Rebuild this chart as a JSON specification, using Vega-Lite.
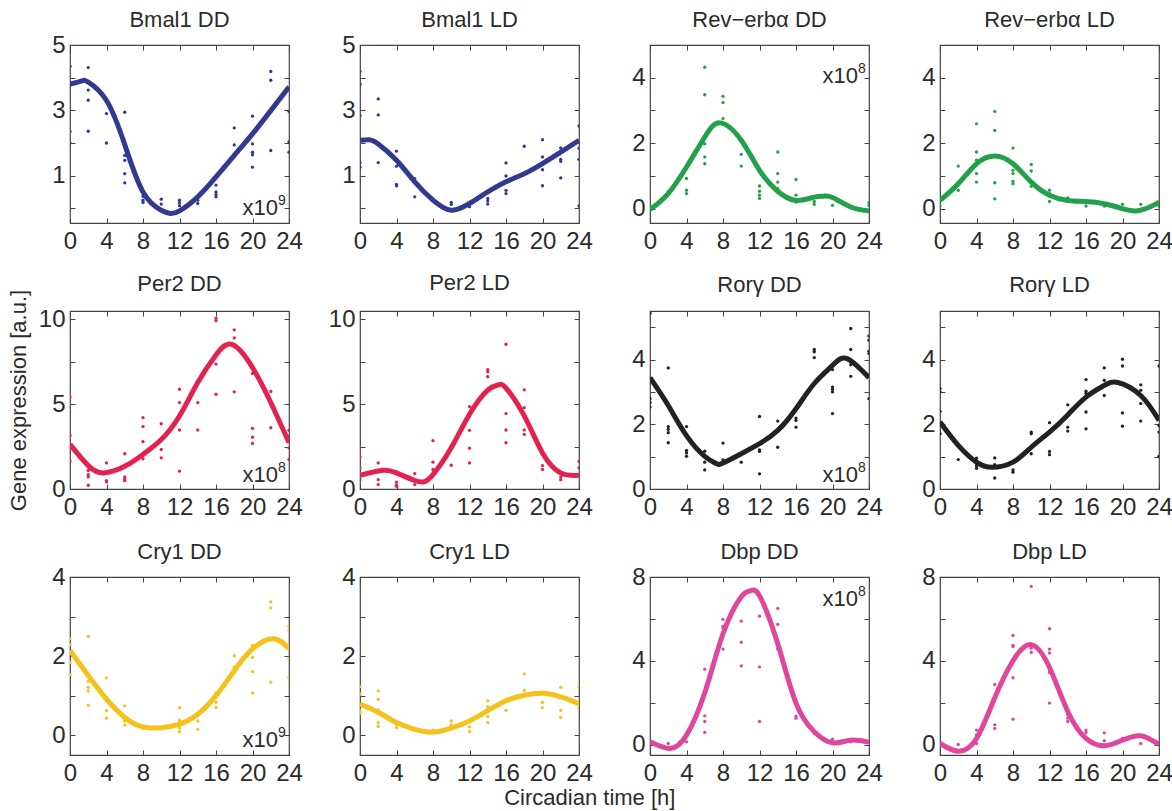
{
"$schema":"https://vega.github.io/schema/vega-lite/v6.json",
"background":"white",
"padding":{"left":6,"top":8,"right":2,"bottom":6},
"config":{
 "font":"Liberation Sans",
 "view":{"stroke":"#444","strokeWidth":1.2},
 "axis":{"domain":false,"grid":false,"tickSize":-5,"tickColor":"#444","tickWidth":1,"labelFont":"Liberation Sans","labelFontSize":24,"labelColor":"#2b2b2b","labelOverlap":false,"labelFlush":false,"titleFont":"Liberation Sans","titleFontSize":22,"titleFontWeight":"normal","titleColor":"#2b2b2b"},
 "axisX":{"labelPadding":11},
 "axisY":{"labelPadding":10},
 "title":{"font":"Liberation Sans","fontSize":22,"fontWeight":"normal","color":"#2b2b2b","offset":1},
 "style":{"group-title":{"fontWeight":"normal","fontSize":22,"font":"Liberation Sans","fill":"#2b2b2b"}},
 "text":{"font":"Liberation Sans","color":"#2b2b2b"}
},
"title":{"text":"Circadian time [h]","orient":"bottom","anchor":"middle","fontSize":22,"fontWeight":"normal","offset":2},
"datasets":{
"pts":[
{"p":"bD","t":0,"v":4.35},{"p":"bD","t":0,"v":3.8},{"p":"bD","t":0,"v":2.35},{"p":"bD","t":0,"v":2.0},
{"p":"bD","t":2,"v":4.31},{"p":"bD","t":2,"v":3.62},{"p":"bD","t":2,"v":3.31},{"p":"bD","t":2,"v":2.36},
{"p":"bD","t":4,"v":3.3},{"p":"bD","t":4,"v":2.9},{"p":"bD","t":4,"v":2.0},
{"p":"bD","t":6,"v":2.94},{"p":"bD","t":6,"v":1.62},{"p":"bD","t":6,"v":1.47},{"p":"bD","t":6,"v":1.06},{"p":"bD","t":6,"v":0.78},
{"p":"bD","t":8,"v":0.37},{"p":"bD","t":8,"v":0.25},{"p":"bD","t":8,"v":0.18},
{"p":"bD","t":10,"v":0.28},{"p":"bD","t":10,"v":0.13},
{"p":"bD","t":12,"v":0.25},{"p":"bD","t":12,"v":0.17},{"p":"bD","t":12,"v":0.08},
{"p":"bD","t":14,"v":0.25},{"p":"bD","t":14,"v":0.15},
{"p":"bD","t":16,"v":0.71},{"p":"bD","t":16,"v":0.5},{"p":"bD","t":16,"v":0.42},{"p":"bD","t":16,"v":0.35},
{"p":"bD","t":18,"v":2.46},{"p":"bD","t":18,"v":1.94},{"p":"bD","t":18,"v":1.65},
{"p":"bD","t":20,"v":2.82},{"p":"bD","t":20,"v":1.97},{"p":"bD","t":20,"v":1.72},{"p":"bD","t":20,"v":1.64},{"p":"bD","t":20,"v":1.26},
{"p":"bD","t":22,"v":4.19},{"p":"bD","t":22,"v":3.92},{"p":"bD","t":22,"v":1.77},
{"p":"bD","t":24,"v":2.97},{"p":"bD","t":24,"v":2.03},{"p":"bD","t":24,"v":1.72},

{"p":"bL","t":0,"v":4.19},{"p":"bL","t":0,"v":3.8},{"p":"bL","t":0,"v":2.84},{"p":"bL","t":0,"v":1.39},{"p":"bL","t":0,"v":1.26},
{"p":"bL","t":2,"v":3.35},{"p":"bL","t":2,"v":2.86},{"p":"bL","t":2,"v":1.95},{"p":"bL","t":2,"v":1.4},
{"p":"bL","t":4,"v":1.75},{"p":"bL","t":4,"v":1.29},{"p":"bL","t":4,"v":0.73},{"p":"bL","t":4,"v":0.69},
{"p":"bL","t":6,"v":0.91},{"p":"bL","t":6,"v":0.35},
{"p":"bL","t":8,"v":0.25},
{"p":"bL","t":10,"v":0.18},{"p":"bL","t":10,"v":0.12},
{"p":"bL","t":12,"v":0.05},
{"p":"bL","t":14,"v":0.3},{"p":"bL","t":14,"v":0.22},{"p":"bL","t":14,"v":0.13},
{"p":"bL","t":16,"v":1.39},{"p":"bL","t":16,"v":0.99},{"p":"bL","t":16,"v":0.55},{"p":"bL","t":16,"v":0.45},
{"p":"bL","t":18,"v":1.9},
{"p":"bL","t":20,"v":2.1},{"p":"bL","t":20,"v":1.57},{"p":"bL","t":20,"v":1.35},{"p":"bL","t":20,"v":1.18},{"p":"bL","t":20,"v":0.69},
{"p":"bL","t":22,"v":1.85},{"p":"bL","t":22,"v":1.5},{"p":"bL","t":22,"v":1.44},{"p":"bL","t":22,"v":0.93},
{"p":"bL","t":24,"v":2.52},{"p":"bL","t":24,"v":1.84},{"p":"bL","t":24,"v":1.5},{"p":"bL","t":24,"v":0.07},

{"p":"rD","t":0,"v":0.1},
{"p":"rD","t":2,"v":0.51},
{"p":"rD","t":4,"v":0.92},{"p":"rD","t":4,"v":0.56},{"p":"rD","t":4,"v":0.46},
{"p":"rD","t":6,"v":4.32},{"p":"rD","t":6,"v":3.48},{"p":"rD","t":6,"v":1.98},{"p":"rD","t":6,"v":1.58},{"p":"rD","t":6,"v":1.37},
{"p":"rD","t":8,"v":3.43},{"p":"rD","t":8,"v":3.24},{"p":"rD","t":8,"v":2.75},
{"p":"rD","t":10,"v":1.66},{"p":"rD","t":10,"v":1.3},
{"p":"rD","t":12,"v":0.69},{"p":"rD","t":12,"v":0.53},{"p":"rD","t":12,"v":0.41},{"p":"rD","t":12,"v":0.31},
{"p":"rD","t":14,"v":1.73},{"p":"rD","t":14,"v":1.07},{"p":"rD","t":14,"v":0.81},{"p":"rD","t":14,"v":0.61},
{"p":"rD","t":16,"v":0.89},{"p":"rD","t":16,"v":0.41},{"p":"rD","t":16,"v":0.25},{"p":"rD","t":16,"v":0.2},
{"p":"rD","t":18,"v":0.22},{"p":"rD","t":18,"v":0.13},
{"p":"rD","t":20,"v":0.1},
{"p":"rD","t":24,"v":0.18},{"p":"rD","t":24,"v":0.1},

{"p":"rL","t":0,"v":0.25},{"p":"rL","t":0,"v":0.08},
{"p":"rL","t":2,"v":1.3},{"p":"rL","t":2,"v":0.76},{"p":"rL","t":2,"v":0.56},
{"p":"rL","t":4,"v":2.59},{"p":"rL","t":4,"v":1.73},{"p":"rL","t":4,"v":1.48},{"p":"rL","t":4,"v":1.07},{"p":"rL","t":4,"v":0.81},
{"p":"rL","t":6,"v":2.97},{"p":"rL","t":6,"v":2.39},{"p":"rL","t":6,"v":0.79},{"p":"rL","t":6,"v":0.3},
{"p":"rL","t":8,"v":1.85},{"p":"rL","t":8,"v":1.17},{"p":"rL","t":8,"v":1.07},{"p":"rL","t":8,"v":0.83},{"p":"rL","t":8,"v":0.76},
{"p":"rL","t":10,"v":1.35},{"p":"rL","t":10,"v":1.15},{"p":"rL","t":10,"v":0.68},
{"p":"rL","t":12,"v":0.56},{"p":"rL","t":12,"v":0.46},{"p":"rL","t":12,"v":0.22},
{"p":"rL","t":14,"v":0.33},
{"p":"rL","t":16,"v":0.2},{"p":"rL","t":16,"v":0.08},
{"p":"rL","t":18,"v":0.08},
{"p":"rL","t":20,"v":0.13},
{"p":"rL","t":22,"v":0.13},
{"p":"rL","t":24,"v":0.2},{"p":"rL","t":24,"v":0.08},

{"p":"pD","t":0,"v":5.43},{"p":"pD","t":0,"v":3.16},{"p":"pD","t":0,"v":2.59},{"p":"pD","t":0,"v":1.64},
{"p":"pD","t":2,"v":1.09},{"p":"pD","t":2,"v":0.85},{"p":"pD","t":2,"v":0.71},{"p":"pD","t":2,"v":0.22},
{"p":"pD","t":4,"v":1.54},{"p":"pD","t":4,"v":0.49},{"p":"pD","t":4,"v":0.42},
{"p":"pD","t":6,"v":2.08},{"p":"pD","t":6,"v":0.71},{"p":"pD","t":6,"v":0.59},{"p":"pD","t":6,"v":0.49},
{"p":"pD","t":8,"v":4.21},{"p":"pD","t":8,"v":3.68},{"p":"pD","t":8,"v":2.79},{"p":"pD","t":8,"v":1.78},
{"p":"pD","t":10,"v":3.85},{"p":"pD","t":10,"v":2.33},{"p":"pD","t":10,"v":1.84},
{"p":"pD","t":12,"v":5.89},{"p":"pD","t":12,"v":5.1},{"p":"pD","t":12,"v":3.48},{"p":"pD","t":12,"v":1.05},
{"p":"pD","t":14,"v":5.1},{"p":"pD","t":14,"v":3.48},
{"p":"pD","t":16,"v":10.08},{"p":"pD","t":16,"v":9.94},{"p":"pD","t":16,"v":7.37},{"p":"pD","t":16,"v":5.59},
{"p":"pD","t":18,"v":9.39},{"p":"pD","t":18,"v":8.91},{"p":"pD","t":18,"v":5.73},
{"p":"pD","t":20,"v":6.82},{"p":"pD","t":20,"v":3.58},{"p":"pD","t":20,"v":3.06},{"p":"pD","t":20,"v":2.69},
{"p":"pD","t":22,"v":5.75},{"p":"pD","t":22,"v":3.62},
{"p":"pD","t":24,"v":3.46},{"p":"pD","t":24,"v":3.12},{"p":"pD","t":24,"v":2.43},{"p":"pD","t":24,"v":1.74},

{"p":"pL","t":0,"v":1.9},{"p":"pL","t":0,"v":1.25},{"p":"pL","t":0,"v":0.55},
{"p":"pL","t":2,"v":1.54},{"p":"pL","t":2,"v":0.55},{"p":"pL","t":2,"v":0.26},
{"p":"pL","t":4,"v":0.4},{"p":"pL","t":4,"v":0.22},{"p":"pL","t":4,"v":0.16},
{"p":"pL","t":6,"v":0.91},{"p":"pL","t":6,"v":0.26},
{"p":"pL","t":8,"v":2.85},{"p":"pL","t":8,"v":1.58},{"p":"pL","t":8,"v":1.15},
{"p":"pL","t":10,"v":2.43},{"p":"pL","t":10,"v":1.4},
{"p":"pL","t":12,"v":4.86},{"p":"pL","t":12,"v":3.46},{"p":"pL","t":12,"v":2.41},{"p":"pL","t":12,"v":1.54},
{"p":"pL","t":14,"v":7.04},{"p":"pL","t":14,"v":6.92},{"p":"pL","t":14,"v":6.62},
{"p":"pL","t":16,"v":8.54},{"p":"pL","t":16,"v":4.45},{"p":"pL","t":16,"v":3.48},{"p":"pL","t":16,"v":2.73},
{"p":"pL","t":18,"v":5.85},{"p":"pL","t":18,"v":4.8},{"p":"pL","t":18,"v":3.48},{"p":"pL","t":18,"v":3.22},
{"p":"pL","t":20,"v":2.04},{"p":"pL","t":20,"v":1.38},{"p":"pL","t":20,"v":1.15},
{"p":"pL","t":22,"v":0.71},{"p":"pL","t":22,"v":0.55},
{"p":"pL","t":24,"v":1.64},{"p":"pL","t":24,"v":1.25},

{"p":"gD","t":0,"v":5.43},{"p":"gD","t":0,"v":2.79},{"p":"gD","t":0,"v":2.67},{"p":"gD","t":0,"v":2.53},
{"p":"gD","t":2,"v":3.74},{"p":"gD","t":2,"v":1.93},{"p":"gD","t":2,"v":1.84},{"p":"gD","t":2,"v":1.74},{"p":"gD","t":2,"v":1.43},
{"p":"gD","t":4,"v":1.93},{"p":"gD","t":4,"v":1.19},{"p":"gD","t":4,"v":1.11},{"p":"gD","t":4,"v":1.01},
{"p":"gD","t":6,"v":1.17},{"p":"gD","t":6,"v":0.83},{"p":"gD","t":6,"v":0.59},
{"p":"gD","t":8,"v":1.42},{"p":"gD","t":8,"v":0.9},{"p":"gD","t":8,"v":0.8},
{"p":"gD","t":10,"v":0.83},
{"p":"gD","t":12,"v":2.24},{"p":"gD","t":12,"v":1.21},{"p":"gD","t":12,"v":1.16},{"p":"gD","t":12,"v":0.47},
{"p":"gD","t":14,"v":2.1},{"p":"gD","t":14,"v":1.81},{"p":"gD","t":14,"v":1.29},
{"p":"gD","t":16,"v":2.48},{"p":"gD","t":16,"v":2.19},{"p":"gD","t":16,"v":2.12},{"p":"gD","t":16,"v":1.91},
{"p":"gD","t":18,"v":4.31},{"p":"gD","t":18,"v":4.24},{"p":"gD","t":18,"v":4.06},
{"p":"gD","t":20,"v":3.69},{"p":"gD","t":20,"v":3.15},{"p":"gD","t":20,"v":3.08},{"p":"gD","t":20,"v":3.0},{"p":"gD","t":20,"v":2.33},
{"p":"gD","t":22,"v":4.96},{"p":"gD","t":22,"v":4.31},{"p":"gD","t":22,"v":3.84},{"p":"gD","t":22,"v":3.48},
{"p":"gD","t":24,"v":4.73},{"p":"gD","t":24,"v":4.6},{"p":"gD","t":24,"v":4.26},{"p":"gD","t":24,"v":4.19},{"p":"gD","t":24,"v":2.79},

{"p":"gL","t":0,"v":3.1},{"p":"gL","t":0,"v":3.0},{"p":"gL","t":0,"v":2.4},{"p":"gL","t":0,"v":1.71},
{"p":"gL","t":2,"v":0.91},
{"p":"gL","t":4,"v":0.95},{"p":"gL","t":4,"v":0.72},{"p":"gL","t":4,"v":0.64},
{"p":"gL","t":6,"v":0.96},{"p":"gL","t":6,"v":0.75},{"p":"gL","t":6,"v":0.34},
{"p":"gL","t":8,"v":0.59},{"p":"gL","t":8,"v":0.52},
{"p":"gL","t":10,"v":1.76},{"p":"gL","t":10,"v":1.71},{"p":"gL","t":10,"v":1.09},
{"p":"gL","t":12,"v":2.05},{"p":"gL","t":12,"v":1.16},{"p":"gL","t":12,"v":1.06},
{"p":"gL","t":14,"v":2.6},{"p":"gL","t":14,"v":2.3},{"p":"gL","t":14,"v":1.91},{"p":"gL","t":14,"v":1.79},
{"p":"gL","t":16,"v":3.38},{"p":"gL","t":16,"v":3.02},{"p":"gL","t":16,"v":2.95},{"p":"gL","t":16,"v":2.38},{"p":"gL","t":16,"v":1.86},
{"p":"gL","t":18,"v":3.74},{"p":"gL","t":18,"v":3.36},{"p":"gL","t":18,"v":2.89},
{"p":"gL","t":20,"v":4.01},{"p":"gL","t":20,"v":3.8},{"p":"gL","t":20,"v":2.35},{"p":"gL","t":20,"v":1.94},
{"p":"gL","t":22,"v":3.22},{"p":"gL","t":22,"v":3.05},{"p":"gL","t":22,"v":2.64},{"p":"gL","t":22,"v":2.1},
{"p":"gL","t":24,"v":3.8},{"p":"gL","t":24,"v":1.96},{"p":"gL","t":24,"v":1.76},{"p":"gL","t":24,"v":1.01},

{"p":"cD","t":0,"v":2.44},{"p":"cD","t":0,"v":2.29},{"p":"cD","t":0,"v":2.1},{"p":"cD","t":0,"v":1.84},{"p":"cD","t":0,"v":1.53},
{"p":"cD","t":2,"v":2.5},{"p":"cD","t":2,"v":1.36},{"p":"cD","t":2,"v":1.21},{"p":"cD","t":2,"v":1.12},{"p":"cD","t":2,"v":0.76},
{"p":"cD","t":4,"v":1.45},{"p":"cD","t":4,"v":0.96},{"p":"cD","t":4,"v":0.62},{"p":"cD","t":4,"v":0.43},
{"p":"cD","t":6,"v":0.74},{"p":"cD","t":6,"v":0.36},{"p":"cD","t":6,"v":0.26},
{"p":"cD","t":8,"v":0.18},
{"p":"cD","t":10,"v":0.18},
{"p":"cD","t":12,"v":0.7},{"p":"cD","t":12,"v":0.38},{"p":"cD","t":12,"v":0.18},{"p":"cD","t":12,"v":0.09},
{"p":"cD","t":14,"v":0.55},{"p":"cD","t":14,"v":0.36},{"p":"cD","t":14,"v":0.15},
{"p":"cD","t":16,"v":1.07},{"p":"cD","t":16,"v":0.83},{"p":"cD","t":16,"v":0.7},
{"p":"cD","t":18,"v":2.01},{"p":"cD","t":18,"v":1.72},{"p":"cD","t":18,"v":1.59},
{"p":"cD","t":20,"v":2.27},{"p":"cD","t":20,"v":1.97},{"p":"cD","t":20,"v":1.61},{"p":"cD","t":20,"v":1.07},
{"p":"cD","t":22,"v":3.37},{"p":"cD","t":22,"v":3.22},{"p":"cD","t":22,"v":2.44},{"p":"cD","t":22,"v":1.34},
{"p":"cD","t":24,"v":2.75},{"p":"cD","t":24,"v":2.65},{"p":"cD","t":24,"v":1.95},{"p":"cD","t":24,"v":1.46},

{"p":"cL","t":0,"v":1.23},{"p":"cL","t":0,"v":1.04},{"p":"cL","t":0,"v":0.62},{"p":"cL","t":0,"v":0.55},
{"p":"cL","t":2,"v":1.12},{"p":"cL","t":2,"v":0.91},{"p":"cL","t":2,"v":0.64},{"p":"cL","t":2,"v":0.32},{"p":"cL","t":2,"v":0.22},
{"p":"cL","t":4,"v":0.28},{"p":"cL","t":4,"v":0.19},
{"p":"cL","t":8,"v":0.13},
{"p":"cL","t":10,"v":0.36},{"p":"cL","t":10,"v":0.26},{"p":"cL","t":10,"v":0.18},
{"p":"cL","t":12,"v":0.21},{"p":"cL","t":12,"v":0.09},
{"p":"cL","t":14,"v":0.87},{"p":"cL","t":14,"v":0.72},{"p":"cL","t":14,"v":0.47},{"p":"cL","t":14,"v":0.32},
{"p":"cL","t":16,"v":0.87},{"p":"cL","t":16,"v":0.63},
{"p":"cL","t":18,"v":1.55},{"p":"cL","t":18,"v":1.14},{"p":"cL","t":18,"v":1.04},
{"p":"cL","t":20,"v":1.08},{"p":"cL","t":20,"v":0.83},{"p":"cL","t":20,"v":0.7},
{"p":"cL","t":22,"v":1.21},{"p":"cL","t":22,"v":0.63},{"p":"cL","t":22,"v":0.45},
{"p":"cL","t":24,"v":1.21},{"p":"cL","t":24,"v":0.83},{"p":"cL","t":24,"v":0.69},

{"p":"dD","t":0,"v":0.13},
{"p":"dD","t":2,"v":0.05},
{"p":"dD","t":4,"v":0.45},{"p":"dD","t":4,"v":0.13},
{"p":"dD","t":6,"v":3.6},{"p":"dD","t":6,"v":1.37},{"p":"dD","t":6,"v":1.1},{"p":"dD","t":6,"v":0.58},
{"p":"dD","t":8,"v":5.98},{"p":"dD","t":8,"v":5.65},{"p":"dD","t":8,"v":5.58},{"p":"dD","t":8,"v":4.56},
{"p":"dD","t":10,"v":5.89},{"p":"dD","t":10,"v":4.89},{"p":"dD","t":10,"v":3.76},
{"p":"dD","t":12,"v":6.13},{"p":"dD","t":12,"v":3.71},{"p":"dD","t":12,"v":1.1},
{"p":"dD","t":14,"v":6.5},{"p":"dD","t":14,"v":5.74},{"p":"dD","t":14,"v":4.56},
{"p":"dD","t":16,"v":1.98},{"p":"dD","t":16,"v":1.34},{"p":"dD","t":16,"v":1.26},
{"p":"dD","t":18,"v":0.53},
{"p":"dD","t":20,"v":0.26},{"p":"dD","t":20,"v":0.13},
{"p":"dD","t":22,"v":0.13},
{"p":"dD","t":24,"v":0.13},

{"p":"dL","t":0,"v":0.05},
{"p":"dL","t":2,"v":0.0},
{"p":"dL","t":4,"v":0.69},{"p":"dL","t":4,"v":0.45},{"p":"dL","t":4,"v":0.05},
{"p":"dL","t":6,"v":2.87},{"p":"dL","t":6,"v":0.94},{"p":"dL","t":6,"v":0.77},
{"p":"dL","t":8,"v":5.21},{"p":"dL","t":8,"v":4.73},{"p":"dL","t":8,"v":4.68},{"p":"dL","t":8,"v":3.19},{"p":"dL","t":8,"v":1.21},
{"p":"dL","t":10,"v":7.55},{"p":"dL","t":10,"v":4.6},{"p":"dL","t":10,"v":4.4},
{"p":"dL","t":12,"v":5.53},{"p":"dL","t":12,"v":4.56},{"p":"dL","t":12,"v":4.37},{"p":"dL","t":12,"v":3.44},{"p":"dL","t":12,"v":1.98},
{"p":"dL","t":14,"v":1.42},{"p":"dL","t":14,"v":1.26},{"p":"dL","t":14,"v":1.1},
{"p":"dL","t":16,"v":0.69},{"p":"dL","t":16,"v":0.58},
{"p":"dL","t":18,"v":0.56},{"p":"dL","t":18,"v":0.18},
{"p":"dL","t":20,"v":0.29},
{"p":"dL","t":22,"v":0.05}
],
"fit":[
{"p":"bD","t":0,"v":3.8},{"p":"bD","t":1.3,"v":3.9},{"p":"bD","t":2,"v":3.86},{"p":"bD","t":4,"v":3.3},{"p":"bD","t":6,"v":1.95},{"p":"bD","t":8,"v":0.5},{"p":"bD","t":10,"v":-0.06},{"p":"bD","t":11,"v":-0.16},{"p":"bD","t":12,"v":-0.08},{"p":"bD","t":14,"v":0.35},{"p":"bD","t":16,"v":0.96},{"p":"bD","t":18,"v":1.62},{"p":"bD","t":20,"v":2.28},{"p":"bD","t":22,"v":2.99},{"p":"bD","t":24,"v":3.72},
{"p":"bL","t":0,"v":2.08},{"p":"bL","t":1,"v":2.1},{"p":"bL","t":2,"v":1.97},{"p":"bL","t":4,"v":1.47},{"p":"bL","t":6,"v":0.81},{"p":"bL","t":8,"v":0.25},{"p":"bL","t":10,"v":-0.06},{"p":"bL","t":12,"v":0.15},{"p":"bL","t":14,"v":0.5},{"p":"bL","t":16,"v":0.81},{"p":"bL","t":18,"v":1.06},{"p":"bL","t":20,"v":1.37},{"p":"bL","t":22,"v":1.72},{"p":"bL","t":24,"v":2.08},
{"p":"rD","t":0,"v":-0.03},{"p":"rD","t":2,"v":0.46},{"p":"rD","t":4,"v":1.27},{"p":"rD","t":6,"v":2.19},{"p":"rD","t":7.7,"v":2.62},{"p":"rD","t":10,"v":2.09},{"p":"rD","t":12,"v":1.17},{"p":"rD","t":14,"v":0.53},{"p":"rD","t":16,"v":0.25},{"p":"rD","t":18,"v":0.35},{"p":"rD","t":19,"v":0.38},{"p":"rD","t":20,"v":0.34},{"p":"rD","t":22,"v":0.05},{"p":"rD","t":24,"v":-0.07},
{"p":"rL","t":0,"v":0.25},{"p":"rL","t":2,"v":0.76},{"p":"rL","t":4,"v":1.37},{"p":"rL","t":6,"v":1.61},{"p":"rL","t":8,"v":1.37},{"p":"rL","t":10,"v":0.81},{"p":"rL","t":12,"v":0.41},{"p":"rL","t":14,"v":0.25},{"p":"rL","t":16,"v":0.22},{"p":"rL","t":18,"v":0.15},{"p":"rL","t":20,"v":0.0},{"p":"rL","t":21.5,"v":-0.07},{"p":"rL","t":23,"v":0.05},{"p":"rL","t":24,"v":0.2},
{"p":"pD","t":0,"v":2.63},{"p":"pD","t":2,"v":1.38},{"p":"pD","t":3.7,"v":0.95},{"p":"pD","t":6,"v":1.34},{"p":"pD","t":8,"v":2.04},{"p":"pD","t":10,"v":2.92},{"p":"pD","t":12,"v":4.31},{"p":"pD","t":14,"v":6.28},{"p":"pD","t":16,"v":7.91},{"p":"pD","t":17.8,"v":8.52},{"p":"pD","t":20,"v":7.17},{"p":"pD","t":22,"v":5.1},{"p":"pD","t":24,"v":2.73},
{"p":"pL","t":0,"v":0.81},{"p":"pL","t":2.5,"v":1.1},{"p":"pL","t":4,"v":0.95},{"p":"pL","t":6,"v":0.5},{"p":"pL","t":7,"v":0.42},{"p":"pL","t":8,"v":0.85},{"p":"pL","t":10,"v":2.43},{"p":"pL","t":12,"v":4.41},{"p":"pL","t":14,"v":5.83},{"p":"pL","t":15.2,"v":6.15},{"p":"pL","t":16,"v":5.95},{"p":"pL","t":18,"v":4.31},{"p":"pL","t":20,"v":2.13},{"p":"pL","t":22,"v":0.95},{"p":"pL","t":24,"v":0.81},
{"p":"gD","t":0,"v":3.44},{"p":"gD","t":2,"v":2.58},{"p":"gD","t":4,"v":1.65},{"p":"gD","t":6,"v":1.01},{"p":"gD","t":7.3,"v":0.78},{"p":"gD","t":8,"v":0.8},{"p":"gD","t":10,"v":1.09},{"p":"gD","t":12,"v":1.4},{"p":"gD","t":14,"v":1.81},{"p":"gD","t":16,"v":2.48},{"p":"gD","t":18,"v":3.26},{"p":"gD","t":20,"v":3.82},{"p":"gD","t":21.6,"v":4.03},{"p":"gD","t":24,"v":3.44},
{"p":"gL","t":0,"v":2.07},{"p":"gL","t":2,"v":1.35},{"p":"gL","t":4,"v":0.83},{"p":"gL","t":5.7,"v":0.67},{"p":"gL","t":8,"v":0.83},{"p":"gL","t":10,"v":1.29},{"p":"gL","t":12,"v":1.76},{"p":"gL","t":14,"v":2.29},{"p":"gL","t":16,"v":2.84},{"p":"gL","t":18,"v":3.2},{"p":"gL","t":19.5,"v":3.29},{"p":"gL","t":22,"v":2.89},{"p":"gL","t":24,"v":2.12},
{"p":"cD","t":0,"v":2.14},{"p":"cD","t":2,"v":1.51},{"p":"cD","t":4,"v":0.91},{"p":"cD","t":6,"v":0.45},{"p":"cD","t":8,"v":0.21},{"p":"cD","t":10,"v":0.19},{"p":"cD","t":12,"v":0.28},{"p":"cD","t":14,"v":0.53},{"p":"cD","t":16,"v":1.0},{"p":"cD","t":18,"v":1.63},{"p":"cD","t":20,"v":2.18},{"p":"cD","t":22.3,"v":2.44},{"p":"cD","t":24,"v":2.18},
{"p":"cL","t":0,"v":0.79},{"p":"cL","t":2,"v":0.58},{"p":"cL","t":4,"v":0.32},{"p":"cL","t":6,"v":0.15},{"p":"cL","t":8,"v":0.08},{"p":"cL","t":10,"v":0.18},{"p":"cL","t":12,"v":0.36},{"p":"cL","t":14,"v":0.62},{"p":"cL","t":16,"v":0.87},{"p":"cL","t":18,"v":1.01},{"p":"cL","t":20,"v":1.06},{"p":"cL","t":22,"v":0.97},{"p":"cL","t":24,"v":0.8},
{"p":"dD","t":0,"v":0.13},{"p":"dD","t":2.2,"v":-0.19},{"p":"dD","t":4,"v":0.45},{"p":"dD","t":6,"v":2.47},{"p":"dD","t":8,"v":5.29},{"p":"dD","t":10,"v":7.06},{"p":"dD","t":11,"v":7.34},{"p":"dD","t":12,"v":7.1},{"p":"dD","t":14,"v":4.81},{"p":"dD","t":16,"v":1.98},{"p":"dD","t":18,"v":0.61},{"p":"dD","t":20,"v":0.08},{"p":"dD","t":22,"v":0.21},{"p":"dD","t":24,"v":0.1},
{"p":"dL","t":0,"v":0.05},{"p":"dL","t":2,"v":-0.32},{"p":"dL","t":4,"v":0.29},{"p":"dL","t":6,"v":2.23},{"p":"dL","t":8,"v":4.0},{"p":"dL","t":10,"v":4.77},{"p":"dL","t":12,"v":3.68},{"p":"dL","t":14,"v":1.58},{"p":"dL","t":16,"v":0.29},{"p":"dL","t":18,"v":-0.06},{"p":"dL","t":20,"v":0.21},{"p":"dL","t":22,"v":0.42},{"p":"dL","t":24,"v":0.0}
]
},
"columns":4,
"spacing":{"row":88,"column":71},
"bounds":"flush",
"align":"all",
"concat":[
{"title":{"text":"Bmal1 DD","fontWeight":"normal"},"width":219,"height":178,"resolve":{"axis":{"x":"independent","y":"independent"}},"layer":[
 {"data":{"name":"pts"},"transform":[{"filter":"datum.p=='bD'"}],"mark":{"type":"circle","size":11,"opacity":1,"color":"#323a8f","clip":true},
  "encoding":{"x":{"field":"t","type":"quantitative","title":null,"scale":{"domain":[0,24]},"axis":{"values":[0,4,8,12,16,20,24]}},
   "y":{"field":"v","type":"quantitative","title":null,"scale":{"domain":[-0.45,5],"nice":false,"zero":false},"axis":{"values":[0,1,2,3,4,5],"labelExpr":"datum.value%2==1?datum.label:''"}}}},
 {"data":{"name":"fit"},"transform":[{"filter":"datum.p=='bD'"}],"mark":{"type":"line","interpolate":"natural","color":"#323a8f","strokeWidth":5,"clip":true},
  "encoding":{"x":{"field":"t","type":"quantitative","title":null,"axis":{"orient":"top","labels":false,"values":[0,4,8,12,16,20,24]}},
   "y":{"field":"v","type":"quantitative","title":null,"axis":{"orient":"right","labels":false,"values":[0,1,2,3,4,5]}}}},
 {"data":{"values":[{}]},"mark":{"type":"text","align":"right","baseline":"alphabetic","dx":-11,"dy":-8,"fontSize":22},"encoding":{"x":{"datum":24,"type":"quantitative","axis":null},"y":{"datum":-0.45,"type":"quantitative","axis":null},"text":{"value":"x10"}}},
 {"data":{"values":[{}]},"mark":{"type":"text","align":"left","baseline":"alphabetic","dx":-11,"dy":-18,"fontSize":14},"encoding":{"x":{"datum":24,"type":"quantitative","axis":null},"y":{"datum":-0.45,"type":"quantitative","axis":null},"text":{"value":"9"}}}
]},
{"title":{"text":"Bmal1 LD","fontWeight":"normal"},"width":219,"height":178,"resolve":{"axis":{"x":"independent","y":"independent"}},"layer":[
 {"data":{"name":"pts"},"transform":[{"filter":"datum.p=='bL'"}],"mark":{"type":"circle","size":11,"opacity":1,"color":"#323a8f","clip":true},
  "encoding":{"x":{"field":"t","type":"quantitative","title":null,"scale":{"domain":[0,24]},"axis":{"values":[0,4,8,12,16,20,24]}},
   "y":{"field":"v","type":"quantitative","title":null,"scale":{"domain":[-0.45,5],"nice":false,"zero":false},"axis":{"values":[0,1,2,3,4,5],"labelExpr":"datum.value%2==1?datum.label:''"}}}},
 {"data":{"name":"fit"},"transform":[{"filter":"datum.p=='bL'"}],"mark":{"type":"line","interpolate":"natural","color":"#323a8f","strokeWidth":5,"clip":true},
  "encoding":{"x":{"field":"t","type":"quantitative","title":null,"axis":{"orient":"top","labels":false,"values":[0,4,8,12,16,20,24]}},
   "y":{"field":"v","type":"quantitative","title":null,"axis":{"orient":"right","labels":false,"values":[0,1,2,3,4,5]}}}}
]},
{"title":{"text":"Rev−erbα DD","fontWeight":"normal"},"width":219,"height":178,"resolve":{"axis":{"x":"independent","y":"independent"}},"layer":[
 {"data":{"name":"pts"},"transform":[{"filter":"datum.p=='rD'"}],"mark":{"type":"circle","size":11,"opacity":1,"color":"#21a24a","clip":true},
  "encoding":{"x":{"field":"t","type":"quantitative","title":null,"scale":{"domain":[0,24]},"axis":{"values":[0,4,8,12,16,20,24]}},
   "y":{"field":"v","type":"quantitative","title":null,"scale":{"domain":[-0.44,5],"nice":false,"zero":false},"axis":{"values":[0,1,2,3,4,5],"labelExpr":"datum.value%2==0?datum.label:''"}}}},
 {"data":{"name":"fit"},"transform":[{"filter":"datum.p=='rD'"}],"mark":{"type":"line","interpolate":"natural","color":"#21a24a","strokeWidth":5,"clip":true},
  "encoding":{"x":{"field":"t","type":"quantitative","title":null,"axis":{"orient":"top","labels":false,"values":[0,4,8,12,16,20,24]}},
   "y":{"field":"v","type":"quantitative","title":null,"axis":{"orient":"right","labels":false,"values":[0,1,2,3,4,5]}}}},
 {"data":{"values":[{}]},"mark":{"type":"text","align":"right","baseline":"alphabetic","dx":-11,"dy":38,"fontSize":22},"encoding":{"x":{"datum":24,"type":"quantitative","axis":null},"y":{"datum":5,"type":"quantitative","axis":null},"text":{"value":"x10"}}},
 {"data":{"values":[{}]},"mark":{"type":"text","align":"left","baseline":"alphabetic","dx":-11,"dy":28,"fontSize":14},"encoding":{"x":{"datum":24,"type":"quantitative","axis":null},"y":{"datum":5,"type":"quantitative","axis":null},"text":{"value":"8"}}}
]},
{"title":{"text":"Rev−erbα LD","fontWeight":"normal"},"width":219,"height":178,"resolve":{"axis":{"x":"independent","y":"independent"}},"layer":[
 {"data":{"name":"pts"},"transform":[{"filter":"datum.p=='rL'"}],"mark":{"type":"circle","size":11,"opacity":1,"color":"#21a24a","clip":true},
  "encoding":{"x":{"field":"t","type":"quantitative","title":null,"scale":{"domain":[0,24]},"axis":{"values":[0,4,8,12,16,20,24]}},
   "y":{"field":"v","type":"quantitative","title":null,"scale":{"domain":[-0.44,5],"nice":false,"zero":false},"axis":{"values":[0,1,2,3,4,5],"labelExpr":"datum.value%2==0?datum.label:''"}}}},
 {"data":{"name":"fit"},"transform":[{"filter":"datum.p=='rL'"}],"mark":{"type":"line","interpolate":"natural","color":"#21a24a","strokeWidth":5,"clip":true},
  "encoding":{"x":{"field":"t","type":"quantitative","title":null,"axis":{"orient":"top","labels":false,"values":[0,4,8,12,16,20,24]}},
   "y":{"field":"v","type":"quantitative","title":null,"axis":{"orient":"right","labels":false,"values":[0,1,2,3,4,5]}}}}
]},
{"title":{"text":"Per2 DD","fontWeight":"normal","offset":-7},"width":219,"height":178,"resolve":{"axis":{"x":"independent","y":"independent"}},"layer":[
 {"data":{"name":"pts"},"transform":[{"filter":"datum.p=='pD'"}],"mark":{"type":"circle","size":11,"opacity":1,"color":"#e5214e","clip":true},
  "encoding":{"x":{"field":"t","type":"quantitative","title":null,"scale":{"domain":[0,24]},"axis":{"values":[0,4,8,12,16,20,24]}},
   "y":{"field":"v","type":"quantitative","title":"Gene expression [a.u.]","scale":{"domain":[0,10.5],"nice":false,"zero":false},"axis":{"values":[0,2.5,5,7.5,10],"labelExpr":"datum.value%5==0?datum.label:''","titlePadding":8}}}},
 {"data":{"name":"fit"},"transform":[{"filter":"datum.p=='pD'"}],"mark":{"type":"line","interpolate":"natural","color":"#e5214e","strokeWidth":5,"clip":true},
  "encoding":{"x":{"field":"t","type":"quantitative","title":null,"axis":{"orient":"top","labels":false,"values":[0,4,8,12,16,20,24]}},
   "y":{"field":"v","type":"quantitative","title":null,"axis":{"orient":"right","labels":false,"values":[0,2.5,5,7.5,10]}}}},
 {"data":{"values":[{}]},"mark":{"type":"text","align":"right","baseline":"alphabetic","dx":-11,"dy":-7,"fontSize":22},"encoding":{"x":{"datum":24,"type":"quantitative","axis":null},"y":{"datum":0,"type":"quantitative","axis":null},"text":{"value":"x10"}}},
 {"data":{"values":[{}]},"mark":{"type":"text","align":"left","baseline":"alphabetic","dx":-11,"dy":-17,"fontSize":14},"encoding":{"x":{"datum":24,"type":"quantitative","axis":null},"y":{"datum":0,"type":"quantitative","axis":null},"text":{"value":"8"}}}
]},
{"title":{"text":"Per2 LD","fontWeight":"normal","offset":12},"width":219,"height":178,"resolve":{"axis":{"x":"independent","y":"independent"}},"layer":[
 {"data":{"name":"pts"},"transform":[{"filter":"datum.p=='pL'"}],"mark":{"type":"circle","size":11,"opacity":1,"color":"#e5214e","clip":true},
  "encoding":{"x":{"field":"t","type":"quantitative","title":null,"scale":{"domain":[0,24]},"axis":{"values":[0,4,8,12,16,20,24]}},
   "y":{"field":"v","type":"quantitative","title":null,"scale":{"domain":[0,10.5],"nice":false,"zero":false},"axis":{"values":[0,2.5,5,7.5,10],"labelExpr":"datum.value%5==0?datum.label:''"}}}},
 {"data":{"name":"fit"},"transform":[{"filter":"datum.p=='pL'"}],"mark":{"type":"line","interpolate":"natural","color":"#e5214e","strokeWidth":5,"clip":true},
  "encoding":{"x":{"field":"t","type":"quantitative","title":null,"axis":{"orient":"top","labels":false,"values":[0,4,8,12,16,20,24]}},
   "y":{"field":"v","type":"quantitative","title":null,"axis":{"orient":"right","labels":false,"values":[0,2.5,5,7.5,10]}}}}
]},
{"title":{"text":"Rorγ DD","fontWeight":"normal","offset":14},"width":219,"height":178,"resolve":{"axis":{"x":"independent","y":"independent"}},"layer":[
 {"data":{"name":"pts"},"transform":[{"filter":"datum.p=='gD'"}],"mark":{"type":"circle","size":11,"opacity":1,"color":"#222222","clip":true},
  "encoding":{"x":{"field":"t","type":"quantitative","title":null,"scale":{"domain":[0,24]},"axis":{"values":[0,4,8,12,16,20,24]}},
   "y":{"field":"v","type":"quantitative","title":null,"scale":{"domain":[0,5.5],"nice":false,"zero":false},"axis":{"values":[0,1,2,3,4,5],"labelExpr":"datum.value%2==0?datum.label:''"}}}},
 {"data":{"name":"fit"},"transform":[{"filter":"datum.p=='gD'"}],"mark":{"type":"line","interpolate":"natural","color":"#222222","strokeWidth":5,"clip":true},
  "encoding":{"x":{"field":"t","type":"quantitative","title":null,"axis":{"orient":"top","labels":false,"values":[0,4,8,12,16,20,24]}},
   "y":{"field":"v","type":"quantitative","title":null,"axis":{"orient":"right","labels":false,"values":[0,1,2,3,4,5]}}}},
 {"data":{"values":[{}]},"mark":{"type":"text","align":"right","baseline":"alphabetic","dx":-11,"dy":-7,"fontSize":22},"encoding":{"x":{"datum":24,"type":"quantitative","axis":null},"y":{"datum":0,"type":"quantitative","axis":null},"text":{"value":"x10"}}},
 {"data":{"values":[{}]},"mark":{"type":"text","align":"left","baseline":"alphabetic","dx":-11,"dy":-17,"fontSize":14},"encoding":{"x":{"datum":24,"type":"quantitative","axis":null},"y":{"datum":0,"type":"quantitative","axis":null},"text":{"value":"8"}}}
]},
{"title":{"text":"Rorγ LD","fontWeight":"normal","offset":14},"width":219,"height":178,"resolve":{"axis":{"x":"independent","y":"independent"}},"layer":[
 {"data":{"name":"pts"},"transform":[{"filter":"datum.p=='gL'"}],"mark":{"type":"circle","size":11,"opacity":1,"color":"#222222","clip":true},
  "encoding":{"x":{"field":"t","type":"quantitative","title":null,"scale":{"domain":[0,24]},"axis":{"values":[0,4,8,12,16,20,24]}},
   "y":{"field":"v","type":"quantitative","title":null,"scale":{"domain":[0,5.5],"nice":false,"zero":false},"axis":{"values":[0,1,2,3,4,5],"labelExpr":"datum.value%2==0?datum.label:''"}}}},
 {"data":{"name":"fit"},"transform":[{"filter":"datum.p=='gL'"}],"mark":{"type":"line","interpolate":"natural","color":"#222222","strokeWidth":5,"clip":true},
  "encoding":{"x":{"field":"t","type":"quantitative","title":null,"axis":{"orient":"top","labels":false,"values":[0,4,8,12,16,20,24]}},
   "y":{"field":"v","type":"quantitative","title":null,"axis":{"orient":"right","labels":false,"values":[0,1,2,3,4,5]}}}}
]},
{"title":{"text":"Cry1 DD","fontWeight":"normal"},"width":219,"height":178,"resolve":{"axis":{"x":"independent","y":"independent"}},"layer":[
 {"data":{"name":"pts"},"transform":[{"filter":"datum.p=='cD'"}],"mark":{"type":"circle","size":11,"opacity":1,"color":"#f5c21b","clip":true},
  "encoding":{"x":{"field":"t","type":"quantitative","title":null,"scale":{"domain":[0,24]},"axis":{"values":[0,4,8,12,16,20,24]}},
   "y":{"field":"v","type":"quantitative","title":null,"scale":{"domain":[-0.5,4],"nice":false,"zero":false},"axis":{"values":[0,1,2,3,4],"labelExpr":"datum.value%2==0?datum.label:''"}}}},
 {"data":{"name":"fit"},"transform":[{"filter":"datum.p=='cD'"}],"mark":{"type":"line","interpolate":"natural","color":"#f5c21b","strokeWidth":5,"clip":true},
  "encoding":{"x":{"field":"t","type":"quantitative","title":null,"axis":{"orient":"top","labels":false,"values":[0,4,8,12,16,20,24]}},
   "y":{"field":"v","type":"quantitative","title":null,"axis":{"orient":"right","labels":false,"values":[0,1,2,3,4]}}}},
 {"data":{"values":[{}]},"mark":{"type":"text","align":"right","baseline":"alphabetic","dx":-11,"dy":-8,"fontSize":22},"encoding":{"x":{"datum":24,"type":"quantitative","axis":null},"y":{"datum":-0.5,"type":"quantitative","axis":null},"text":{"value":"x10"}}},
 {"data":{"values":[{}]},"mark":{"type":"text","align":"left","baseline":"alphabetic","dx":-11,"dy":-18,"fontSize":14},"encoding":{"x":{"datum":24,"type":"quantitative","axis":null},"y":{"datum":-0.5,"type":"quantitative","axis":null},"text":{"value":"9"}}}
]},
{"title":{"text":"Cry1 LD","fontWeight":"normal"},"width":219,"height":178,"resolve":{"axis":{"x":"independent","y":"independent"}},"layer":[
 {"data":{"name":"pts"},"transform":[{"filter":"datum.p=='cL'"}],"mark":{"type":"circle","size":11,"opacity":1,"color":"#f5c21b","clip":true},
  "encoding":{"x":{"field":"t","type":"quantitative","title":null,"scale":{"domain":[0,24]},"axis":{"values":[0,4,8,12,16,20,24]}},
   "y":{"field":"v","type":"quantitative","title":null,"scale":{"domain":[-0.5,4],"nice":false,"zero":false},"axis":{"values":[0,1,2,3,4],"labelExpr":"datum.value%2==0?datum.label:''"}}}},
 {"data":{"name":"fit"},"transform":[{"filter":"datum.p=='cL'"}],"mark":{"type":"line","interpolate":"natural","color":"#f5c21b","strokeWidth":5,"clip":true},
  "encoding":{"x":{"field":"t","type":"quantitative","title":null,"axis":{"orient":"top","labels":false,"values":[0,4,8,12,16,20,24]}},
   "y":{"field":"v","type":"quantitative","title":null,"axis":{"orient":"right","labels":false,"values":[0,1,2,3,4]}}}}
]},
{"title":{"text":"Dbp DD","fontWeight":"normal"},"width":219,"height":178,"resolve":{"axis":{"x":"independent","y":"independent"}},"layer":[
 {"data":{"name":"pts"},"transform":[{"filter":"datum.p=='dD'"}],"mark":{"type":"circle","size":11,"opacity":1,"color":"#e0469b","clip":true},
  "encoding":{"x":{"field":"t","type":"quantitative","title":null,"scale":{"domain":[0,24]},"axis":{"values":[0,4,8,12,16,20,24]}},
   "y":{"field":"v","type":"quantitative","title":null,"scale":{"domain":[-0.5,8],"nice":false,"zero":false},"axis":{"values":[0,2,4,6,8],"labelExpr":"datum.value%4==0?datum.label:''"}}}},
 {"data":{"name":"fit"},"transform":[{"filter":"datum.p=='dD'"}],"mark":{"type":"line","interpolate":"natural","color":"#e0469b","strokeWidth":5,"clip":true},
  "encoding":{"x":{"field":"t","type":"quantitative","title":null,"axis":{"orient":"top","labels":false,"values":[0,4,8,12,16,20,24]}},
   "y":{"field":"v","type":"quantitative","title":null,"axis":{"orient":"right","labels":false,"values":[0,2,4,6,8]}}}},
 {"data":{"values":[{}]},"mark":{"type":"text","align":"right","baseline":"alphabetic","dx":-11,"dy":29,"fontSize":22},"encoding":{"x":{"datum":24,"type":"quantitative","axis":null},"y":{"datum":8,"type":"quantitative","axis":null},"text":{"value":"x10"}}},
 {"data":{"values":[{}]},"mark":{"type":"text","align":"left","baseline":"alphabetic","dx":-11,"dy":19,"fontSize":14},"encoding":{"x":{"datum":24,"type":"quantitative","axis":null},"y":{"datum":8,"type":"quantitative","axis":null},"text":{"value":"8"}}}
]},
{"title":{"text":"Dbp LD","fontWeight":"normal"},"width":219,"height":178,"resolve":{"axis":{"x":"independent","y":"independent"}},"layer":[
 {"data":{"name":"pts"},"transform":[{"filter":"datum.p=='dL'"}],"mark":{"type":"circle","size":11,"opacity":1,"color":"#e0469b","clip":true},
  "encoding":{"x":{"field":"t","type":"quantitative","title":null,"scale":{"domain":[0,24]},"axis":{"values":[0,4,8,12,16,20,24]}},
   "y":{"field":"v","type":"quantitative","title":null,"scale":{"domain":[-0.5,8],"nice":false,"zero":false},"axis":{"values":[0,2,4,6,8],"labelExpr":"datum.value%4==0?datum.label:''"}}}},
 {"data":{"name":"fit"},"transform":[{"filter":"datum.p=='dL'"}],"mark":{"type":"line","interpolate":"natural","color":"#e0469b","strokeWidth":5,"clip":true},
  "encoding":{"x":{"field":"t","type":"quantitative","title":null,"axis":{"orient":"top","labels":false,"values":[0,4,8,12,16,20,24]}},
   "y":{"field":"v","type":"quantitative","title":null,"axis":{"orient":"right","labels":false,"values":[0,2,4,6,8]}}}}
]}
]
}
